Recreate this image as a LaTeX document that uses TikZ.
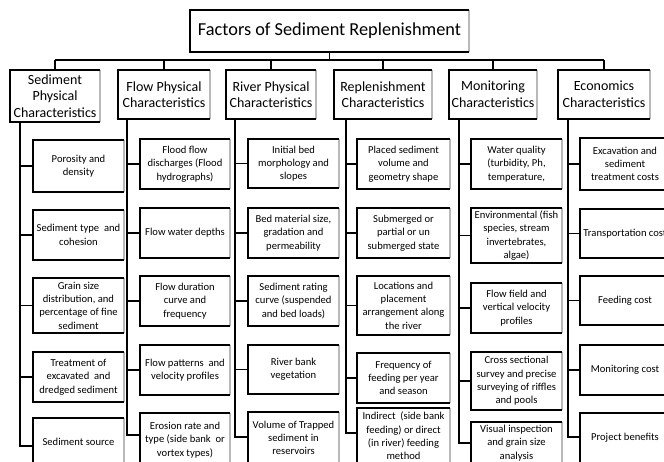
\documentclass[tikz,border=0pt]{standalone}
\usepackage{fontspec}
\setmainfont{Carlito}
\begin{document}
\begin{tikzpicture}[x=1pt,y=-1pt,
  conn/.style={line width=1.9pt},
  tbox/.style={inner sep=0pt, align=center, fill=white, font=\fontsize{18.3}{21}\selectfont},
  hbox/.style={inner sep=0pt, align=center, fill=white, font=\fontsize{14}{16.6}\selectfont},
  cbox/.style={inner sep=0pt, align=center, fill=white, font=\fontsize{10.6}{13.3}\selectfont},
  edgeb/.style={line width=1.8pt, black},
  edgeg/.style={line width=1.8pt, gray!55}]
\useasboundingbox (0,0) rectangle (664,462);
\clip (0,0) rectangle (664,462);

% title
\node[tbox, minimum width=279, minimum height=42] (T) at (329.5,31) {Factors of Sediment Replenishment};

% level 1
\node[hbox, minimum width=90, minimum height=52] (S) at (55,96) {Sediment\\Physical\\Characteristics};
\node[hbox, minimum width=92, minimum height=49] (F) at (164,94.5) {Flow Physical\\Characteristics};
\node[hbox, minimum width=90, minimum height=49] (R) at (271,94.5) {River Physical\\Characteristics};
\node[hbox, minimum width=98, minimum height=49] (P) at (383,94.5) {Replenishment\\Characteristics};
\node[hbox, minimum width=88, minimum height=49] (M) at (493,94.5) {Monitoring\\Characteristics};
\node[hbox, minimum width=92, minimum height=49] (E) at (604,94.5) {Economics\\Characteristics};

% sediment children
\node[cbox, minimum width=91, minimum height=52] (s1) at (78.5,166) {Porosity and\\density};
\node[cbox, minimum width=91, minimum height=50] (s2) at (78.5,235) {Sediment type \ and\\cohesion};
\node[cbox, minimum width=91, minimum height=55] (s3) at (78.5,305.5) {Grain size\\distribution, and\\percentage of fine\\sediment};
\node[cbox, minimum width=91, minimum height=50] (s4) at (78.5,377) {Treatment of\\excavated \ and\\dredged sediment};
\node[cbox, minimum width=91, minimum height=48] (s5) at (78.5,442) {Sediment source};

% flow children
\node[cbox, minimum width=90, minimum height=50] (f1) at (185,164) {Flood flow\\discharges (Flood\\hydrographs)};
\node[cbox, minimum width=90, minimum height=50] (f2) at (185,233) {Flow water depths};
\node[cbox, minimum width=90, minimum height=50] (f3) at (185,301) {Flow duration\\curve and\\frequency};
\node[cbox, minimum width=90, minimum height=50] (f4) at (185,370) {Flow patterns \ and\\velocity profiles};
\node[cbox, minimum width=90, minimum height=54] (f5) at (185,440) {Erosion rate and\\type (side bank \ or\\vortex types)};

% river children
\node[cbox, minimum width=91, minimum height=49] (r1) at (293.5,163.5) {Initial bed\\morphology and\\slopes};
\node[cbox, minimum width=91, minimum height=50] (r2) at (293.5,233) {Bed material size,\\gradation and\\permeability};
\node[cbox, minimum width=91, minimum height=50] (r3) at (293.5,301) {Sediment rating\\curve (suspended\\and bed loads)};
\node[cbox, minimum width=91, minimum height=49] (r4) at (293.5,369.5) {River bank\\vegetation};
\node[cbox, minimum width=91, minimum height=52] (r5) at (293.5,438) {Volume of Trapped\\sediment in\\reservoirs};

% replenishment children
\node[cbox, minimum width=93, minimum height=50] (p1) at (403.5,164) {Placed sediment\\volume and\\geometry shape};
\node[cbox, minimum width=93, minimum height=50] (p2) at (403.5,233) {Submerged or\\partial or un\\submerged state};
\node[cbox, minimum width=93, minimum height=59] (p3) at (403.5,305.5) {Locations and\\placement\\arrangement along\\the river};
\node[cbox, minimum width=93, minimum height=50] (p4) at (403.5,378) {Frequency of\\feeding per year\\and season};
\node[cbox, minimum width=93, minimum height=56] (p5) at (403.5,436) {Indirect \ (side bank\\feeding) or direct\\(in river) feeding\\method};

% monitoring children
\node[cbox, minimum width=91, minimum height=50] (m1) at (516.5,164) {Water quality\\(turbidity, Ph,\\temperature,};
\node[cbox, minimum width=91, minimum height=55] (m2) at (516.5,235.5) {Environmental (fish\\species, stream\\invertebrates,\\algae)};
\node[cbox, minimum width=91, minimum height=50] (m3) at (516.5,308) {Flow field and\\vertical velocity\\profiles};
\node[cbox, minimum width=91, minimum height=58] (m4) at (516.5,381) {Cross sectional\\survey and precise\\surveying of riffles\\and pools};
\node[cbox, minimum width=91, minimum height=42] (m5) at (516.5,443) {Visual inspection\\and grain size\\analysis};

% economics children
\node[cbox, minimum width=90, minimum height=52] (e1) at (625,164) {Excavation and\\sediment\\treatment costs};
\node[cbox, minimum width=90, minimum height=49] (e2) at (625,233.5) {Transportation cost};
\node[cbox, minimum width=90, minimum height=49] (e3) at (625,300.5) {Feeding cost};
\node[cbox, minimum width=90, minimum height=50] (e4) at (625,370) {Monitoring cost};
\node[cbox, minimum width=90, minimum height=50] (e5) at (625,438) {Project benefits};

% box edges
\foreach \n in {T,S,F,R,P,M,E,s1,s2,s3,s4,s5,f1,f2,f3,f4,f5,r1,r2,r3,r4,r5,p1,p2,p3,p4,p5,m1,m2,m3,m4,m5,e1,e2,e3,e4,e5}{
  \draw[edgeg] (\n.north east) -- (\n.south east);
  \draw[edgeb] (\n.south east) -- (\n.south west) -- (\n.north west) -- (\n.north east);
}

% top connectors
\coordinate (bus) at (0,60);
\draw[conn] (T.south) -- (T.south |- bus);
\draw[conn] (S.north |- bus) -- (E.north |- bus);
\foreach \n in {S,F,R,P,M,E}{ \draw[conn] (\n.north |- bus) -- (\n.north); }

% trunk coordinates
\coordinate (St) at ([xshift=10pt]S.south west);
\coordinate (Ft) at ([xshift=9pt]F.south west);
\coordinate (Rt) at ([xshift=9pt]R.south west);
\coordinate (Pt) at ([xshift=12pt]P.south west);
\coordinate (Mt) at ([xshift=10pt]M.south west);
\coordinate (Et) at ([xshift=10pt]E.south west);

\foreach \c in {s1,s2,s3,s4}{ \draw[conn] (St) |- (\c.west); }
\draw[conn] (St) |- ([yshift=-28pt]s5.north west);
\foreach \c in {f1,f2,f3,f4}{ \draw[conn] (Ft) |- (\c.west); }
\draw[conn] (Ft) |- ([yshift=-22pt]f5.north west);
\foreach \c in {r1,r2,r3,r4}{ \draw[conn] (Rt) |- (\c.west); }
\draw[conn] (Rt) |- ([yshift=-25pt]r5.north west);
\foreach \c in {p1,p2,p3,p4}{ \draw[conn] (Pt) |- (\c.west); }
\draw[conn] (Pt) |- ([yshift=-25pt]p5.north west);
\foreach \c in {m1,m2,m3,m4}{ \draw[conn] (Mt) |- (\c.west); }
\draw[conn] (Mt) |- ([yshift=-21pt]m5.north west);
\foreach \c in {e1,e2,e3,e4}{ \draw[conn] (Et) |- (\c.west); }
\draw[conn] (Et) |- ([yshift=-24pt]e5.north west);
\end{tikzpicture}
\end{document}
